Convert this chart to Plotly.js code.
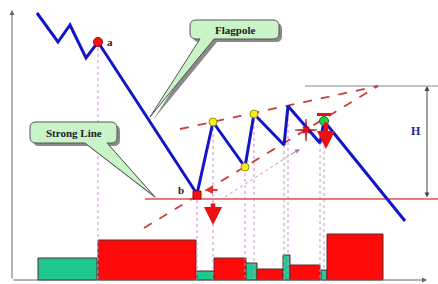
<!DOCTYPE html>
<html><head><meta charset="utf-8">
<script src="https://cdn.plot.ly/plotly-3.0.1.min.js"></script>
<style>html,body{margin:0;padding:0;background:#fff;overflow:hidden}#chart{width:438px;height:284px}</style>
</head><body><div id="chart"></div>
<script>
// ---- data (time units, price units) ----
const priceX = [37, 58, 70, 86, 98, 197, 213, 245, 254, 284, 288, 320, 324, 405];
const priceY = [267, 238, 255, 222, 238, 86, 158, 113, 166, 135, 174, 137, 159, 59];
const volStart = [38, 98, 197, 214, 246, 257, 283, 290, 321, 327];
const volEnd   = [97, 196, 214, 246, 257, 283, 290, 320, 327, 383];
const volume   = [22, 40, 9, 22, 17, 11, 25, 15, 10, 46];
const volDir   = ['up','down','up','down','up','down','up','down','up','down'];
const upperTrendX = [180, 378], upperTrendY = [151, 194];
const lowerTrendX = [144, 378], lowerTrendY = [52, 194];
const strongLevel = 81;      // breakout support line
const targetLevel = 194;     // top of the measured move H
const idxA = 4, idxB = 5, idxYellow = [6, 7, 8], idxGreen = 12;
const dropLines = [4, 5, 6, 7, 8, 9, 10, 11, 12];
const labels = {a: 'a', b: 'b', h: 'H', flag: 'Flagpole', strong: 'Strong Line'};

const Y = p => 280 - p; // picture helper for layout-only decorations
const traces = [];

// dotted drop lines from pivots
const dlx = [], dly = [];
dropLines.forEach(i => { dlx.push(priceX[i], priceX[i], null); dly.push(priceY[i], 0, null); });
traces.push({x: dlx, y: dly, mode: 'lines', line: {color: '#c890d0', width: 1, dash: 'dot'}, hoverinfo: 'skip'});

// volume bars
traces.push({type: 'bar', x: volStart.map((s, i) => (s + volEnd[i]) / 2), y: volume,
  width: volStart.map((s, i) => volEnd[i] - s),
  marker: {color: volDir.map(d => d === 'up' ? '#1ec88e' : '#ff0a0a'), line: {color: '#5a2a2a', width: 1}}, hoverinfo: 'skip'});

// support / target lines
traces.push({x: [145, 438], y: [strongLevel, strongLevel], mode: 'lines', line: {color: '#e05050', width: 1.5}, hoverinfo: 'skip'});
traces.push({x: [305, 438], y: [targetLevel, targetLevel], mode: 'lines', line: {color: '#888', width: 1}, hoverinfo: 'skip'});

// flag trend lines
traces.push({x: upperTrendX, y: upperTrendY, mode: 'lines', line: {color: '#c84040', width: 1.8, dash: 'dash'}, hoverinfo: 'skip'});
traces.push({x: lowerTrendX, y: lowerTrendY, mode: 'lines', line: {color: '#c84040', width: 1.8, dash: 'dash'}, hoverinfo: 'skip'});

// pink dotted guide
traces.push({x: [225, 298], y: [83, 130], mode: 'lines', line: {color: '#c890d0', width: 1, dash: 'dot'}, hoverinfo: 'skip'});

// price line
traces.push({x: priceX, y: priceY, mode: 'lines', line: {color: '#1414c8', width: 3}, hoverinfo: 'skip'});

// markers
traces.push({x: [priceX[idxA]], y: [priceY[idxA]], mode: 'markers', marker: {color: '#ff1010', size: 9, line: {color: '#a00', width: 1}}, hoverinfo: 'skip'});
traces.push({x: [priceX[idxB]], y: [priceY[idxB] - 1], mode: 'markers', marker: {color: '#ff1010', size: 8, symbol: 'square', line: {color: '#a00', width: 1}}, hoverinfo: 'skip'});
traces.push({x: idxYellow.map(i => priceX[i]), y: idxYellow.map(i => priceY[i]), mode: 'markers', marker: {color: '#f4f020', size: 8, line: {color: '#a09000', width: 1}}, hoverinfo: 'skip'});
traces.push({x: [priceX[idxGreen]], y: [priceY[idxGreen]], mode: 'markers', marker: {color: '#20d040', size: 9, line: {color: '#107020', width: 1}}, hoverinfo: 'skip'});

function callout(x0, y0, x1, y1, r, tA, tB, tip, dx, dy) {
  dx = dx || 0; dy = dy || 0;
  const X = v => v + dx, YY = v => Y(v + dy);
  return `M${X(x0 + r)},${YY(y0)} L${X(x1 - r)},${YY(y0)} Q${X(x1)},${YY(y0)} ${X(x1)},${YY(y0 + r)} L${X(x1)},${YY(y1 - r)} Q${X(x1)},${YY(y1)} ${X(x1 - r)},${YY(y1)} L${X(tA)},${YY(y1)} L${X(tip[0])},${YY(tip[1])} L${X(tB)},${YY(y1)} L${X(x0 + r)},${YY(y1)} Q${X(x0)},${YY(y1)} ${X(x0)},${YY(y1 - r)} L${X(x0)},${YY(y0 + r)} Q${X(x0)},${YY(y0)} ${X(x0 + r)},${YY(y0)} Z`;
}
function star(cx, cy, R, r, R2) {
  const pts = [];
  for (let k = 0; k < 16; k++) {
    const ang = k * Math.PI / 8;
    const rad = k % 4 === 0 ? R : (k % 2 === 0 ? R2 : r);
    pts.push([cx + rad * Math.cos(ang), Y(cy + rad * Math.sin(ang))]);
  }
  return 'M' + pts.map(p => p[0].toFixed(2) + ',' + p[1].toFixed(2)).join(' L') + ' Z';
}
const shapes = [
  {type: 'path', path: callout(190, 20, 279, 39, 6, 214, 200, [150, 117], 3, 3), fillcolor: '#8a8a8a', line: {width: 0}},
  {type: 'path', path: callout(190, 20, 279, 39, 6, 214, 200, [150, 117]), fillcolor: '#c8f4c8', line: {color: '#555', width: 1}},
  {type: 'path', path: callout(30, 122, 117, 143, 6, 107, 85, [155, 197], 3, 3), fillcolor: '#8a8a8a', line: {width: 0}},
  {type: 'path', path: callout(30, 122, 117, 143, 6, 107, 85, [155, 197]), fillcolor: '#c8f4c8', line: {color: '#555', width: 1}},
  {type: 'line', x0: 317, x1: 331, y0: Y(114.5), y1: Y(114.5), line: {color: '#ee1010', width: 3}},
  {type: 'path', path: star(306, 130, 11, 2.2, 4.5), fillcolor: '#ee1010', line: {color: '#a00', width: 0.6}}
];

const serif = {family: 'Liberation Serif, DejaVu Serif, serif', size: 11, color: '#222'};
const arrow = (x, y, ax, ay, color, w, head, side, size) => ({x, y, ax, ay, xref: 'x', yref: 'y', axref: 'x', ayref: 'y', text: '', showarrow: true, arrowcolor: color, arrowwidth: w, arrowhead: head, arrowsize: size || 1, arrowside: side || 'end', standoff: 0, startstandoff: 0});
const annotations = [
  arrow(12, Y(10), 12, Y(280), '#666', 1, 2),
  arrow(427, Y(280), 12, Y(280), '#666', 1, 2),
  arrow(427, Y(86), 427, Y(199), '#444', 1, 2, 'end+start'),
  arrow(213, Y(225), 213, Y(202), '#ee1010', 4.5, 2, 'end', 0.8),
  arrow(326, Y(149), 326, Y(121), '#ee1010', 4.5, 2, 'end', 0.8),
  arrow(205, Y(190), 219, Y(190), '#e03030', 2, 2, 'end', 0.8),
  arrow(300, 131, 290, 125, '#c070c8', 1, 2),
  {x: 110, y: Y(42), xref: 'x', yref: 'y', text: '<b>' + labels.a + '</b>', showarrow: false, font: serif},
  {x: 181, y: Y(190), xref: 'x', yref: 'y', text: '<b>' + labels.b + '</b>', showarrow: false, font: serif},
  {x: 416, y: Y(131), xref: 'x', yref: 'y', text: '<b>' + labels.h + '</b>', showarrow: false, font: {family: serif.family, size: 12, color: '#1a2a9a'}},
  {x: 234.5, y: Y(29.5), xref: 'x', yref: 'y', text: '<b>' + labels.flag + '</b>', showarrow: false, font: serif},
  {x: 73.5, y: Y(132.5), xref: 'x', yref: 'y', text: '<b>' + labels.strong + '</b>', showarrow: false, font: serif}
];

Plotly.newPlot('chart', traces, {
  width: 438, height: 284, margin: {l: 0, r: 0, t: 0, b: 0},
  paper_bgcolor: '#fff', plot_bgcolor: '#fff', showlegend: false, bargap: 0,
  xaxis: {range: [0, 438], visible: false, fixedrange: true},
  yaxis: {range: [-4, 280], visible: false, fixedrange: true},
  shapes, annotations
}, {staticPlot: true});
</script></body></html>
